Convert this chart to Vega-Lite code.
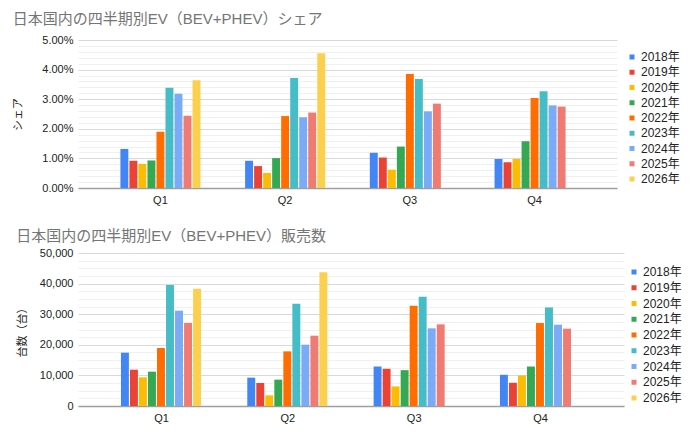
{
  "$schema": "https://vega.github.io/schema/vega-lite/v6.json",
  "padding": {"left": 12, "top": 12, "right": 5, "bottom": 5},
  "config": {
    "font": "Liberation Sans, Noto Sans CJK JP, sans-serif",
    "view": {"stroke": null},
    "axis": {
      "labelFontSize": 11,
      "labelColor": "#222222",
      "titleFontSize": 11,
      "titleColor": "#222222",
      "titleFontWeight": "normal",
      "ticks": false,
      "domain": false
    },
    "legend": {
      "orient": "none",
      "title": null,
      "symbolType": "square",
      "symbolSize": 25,
      "symbolStrokeWidth": 0,
      "labelFontSize": 12,
      "labelColor": "#222222",
      "labelOffset": 3,
      "rowPadding": 3.5
    },
    "title": {"anchor": "start", "frame": "bounds", "fontSize": 15, "fontWeight": "normal", "color": "#757575"},
    "concat": {"spacing": 24}
  },
  "data": {
    "values": [
      {"quarter": "Q1", "year": "2018年", "share": 0.0132, "units": 17430},
      {"quarter": "Q1", "year": "2019年", "share": 0.0092, "units": 11870},
      {"quarter": "Q1", "year": "2020年", "share": 0.0081, "units": 9370},
      {"quarter": "Q1", "year": "2021年", "share": 0.0093, "units": 11220},
      {"quarter": "Q1", "year": "2022年", "share": 0.0190, "units": 18950},
      {"quarter": "Q1", "year": "2023年", "share": 0.0339, "units": 39540},
      {"quarter": "Q1", "year": "2024年", "share": 0.0318, "units": 31150},
      {"quarter": "Q1", "year": "2025年", "share": 0.0244, "units": 27120},
      {"quarter": "Q1", "year": "2026年", "share": 0.0364, "units": 38340},
      {"quarter": "Q2", "year": "2018年", "share": 0.0092, "units": 9260},
      {"quarter": "Q2", "year": "2019年", "share": 0.0074, "units": 7520},
      {"quarter": "Q2", "year": "2020年", "share": 0.0051, "units": 3490},
      {"quarter": "Q2", "year": "2021年", "share": 0.0101, "units": 8610},
      {"quarter": "Q2", "year": "2022年", "share": 0.0243, "units": 17860},
      {"quarter": "Q2", "year": "2023年", "share": 0.0372, "units": 33440},
      {"quarter": "Q2", "year": "2024年", "share": 0.0239, "units": 20040},
      {"quarter": "Q2", "year": "2025年", "share": 0.0255, "units": 22980},
      {"quarter": "Q2", "year": "2026年", "share": 0.0455, "units": 43680},
      {"quarter": "Q3", "year": "2018年", "share": 0.0119, "units": 12900},
      {"quarter": "Q3", "year": "2019年", "share": 0.0103, "units": 12150},
      {"quarter": "Q3", "year": "2020年", "share": 0.0062, "units": 6400},
      {"quarter": "Q3", "year": "2021年", "share": 0.0140, "units": 11710},
      {"quarter": "Q3", "year": "2022年", "share": 0.0385, "units": 32750},
      {"quarter": "Q3", "year": "2023年", "share": 0.0368, "units": 35680},
      {"quarter": "Q3", "year": "2024年", "share": 0.0259, "units": 25380},
      {"quarter": "Q3", "year": "2025年", "share": 0.0285, "units": 26680},
      {"quarter": "Q4", "year": "2018年", "share": 0.0098, "units": 10200},
      {"quarter": "Q4", "year": "2019年", "share": 0.0087, "units": 7590},
      {"quarter": "Q4", "year": "2020年", "share": 0.0098, "units": 9980},
      {"quarter": "Q4", "year": "2021年", "share": 0.0158, "units": 12900},
      {"quarter": "Q4", "year": "2022年", "share": 0.0304, "units": 27110},
      {"quarter": "Q4", "year": "2023年", "share": 0.0327, "units": 32210},
      {"quarter": "Q4", "year": "2024年", "share": 0.0279, "units": 26570},
      {"quarter": "Q4", "year": "2025年", "share": 0.0275, "units": 25270}
    ]
  },
  "resolve": {"legend": {"color": "independent"}},
  "vconcat": [
    {
      "title": {"text": "日本国内の四半期別EV（BEV+PHEV）シェア", "offset": 7},
      "width": 539,
      "height": 148,
      "mark": {"type": "bar"},
      "encoding": {
        "x": {
          "field": "quarter",
          "type": "nominal",
          "scale": {"paddingInner": 0.358, "paddingOuter": 0.34},
          "axis": {"title": null, "labelAngle": 0, "labelPadding": 6, "domain": true, "domainColor": "#9e9e9e", "domainWidth": 1.5, "grid": false}
        },
        "xOffset": {
          "field": "year",
          "type": "nominal",
          "scale": {"domain": ["2018年", "2019年", "2020年", "2021年", "2022年", "2023年", "2024年", "2025年", "2026年"], "paddingInner": 0.12}
        },
        "y": {
          "field": "share",
          "type": "quantitative",
          "scale": {"domain": [0, 0.05], "nice": false},
          "axis": {
            "title": "シェア",
            "titlePadding": 18,
            "labelPadding": 5,
            "format": ".2%",
            "values": [0, 0.002, 0.004, 0.006, 0.008, 0.01, 0.012, 0.014, 0.016, 0.018, 0.02, 0.022, 0.024, 0.026, 0.028, 0.03, 0.032, 0.034, 0.036, 0.038, 0.04, 0.042, 0.044, 0.046, 0.048, 0.05],
            "labelOverlap": false,
            "labelExpr": "round(datum.value * 1000) % 10 == 0 ? datum.label : ''",
            "gridColor": {"condition": {"test": "round(datum.value * 1000) % 10 == 0", "value": "#d9d9d9"}, "value": "#f0f0f0"}
          }
        },
        "color": {
          "field": "year",
          "type": "nominal",
          "scale": {
            "domain": ["2018年", "2019年", "2020年", "2021年", "2022年", "2023年", "2024年", "2025年", "2026年"],
            "range": ["#4285F4", "#EA4335", "#FBBC04", "#34A853", "#FF6D01", "#46BDC6", "#7BAAF7", "#F07B72", "#FCD04F"]
          },
          "legend": {"legendX": 548, "legendY": 11, "rowPadding": 3.25}
        }
      }
    },
    {
      "title": {"text": "日本国内の四半期別EV（BEV+PHEV）販売数", "offset": 3},
      "width": 546,
      "height": 153,
      "mark": {"type": "bar"},
      "encoding": {
        "x": {
          "field": "quarter",
          "type": "nominal",
          "scale": {"paddingInner": 0.358, "paddingOuter": 0.34},
          "axis": {"title": null, "labelAngle": 0, "labelPadding": 6, "domain": true, "domainColor": "#9e9e9e", "domainWidth": 1.5, "grid": false}
        },
        "xOffset": {
          "field": "year",
          "type": "nominal",
          "scale": {"domain": ["2018年", "2019年", "2020年", "2021年", "2022年", "2023年", "2024年", "2025年", "2026年"], "paddingInner": 0.12}
        },
        "y": {
          "field": "units",
          "type": "quantitative",
          "scale": {"domain": [0, 50000], "nice": false},
          "axis": {
            "title": "台数（台）",
            "titlePadding": 12,
            "labelPadding": 5,
            "format": ",d",
            "values": [0, 2500, 5000, 7500, 10000, 12500, 15000, 17500, 20000, 22500, 25000, 27500, 30000, 32500, 35000, 37500, 40000, 42500, 45000, 47500, 50000],
            "labelOverlap": false,
            "labelExpr": "datum.value % 10000 == 0 ? datum.label : ''",
            "gridColor": {"condition": {"test": "datum.value % 10000 == 0", "value": "#d9d9d9"}, "value": "#f0f0f0"}
          }
        },
        "color": {
          "field": "year",
          "type": "nominal",
          "scale": {
            "domain": ["2018年", "2019年", "2020年", "2021年", "2022年", "2023年", "2024年", "2025年", "2026年"],
            "range": ["#4285F4", "#EA4335", "#FBBC04", "#34A853", "#FF6D01", "#46BDC6", "#7BAAF7", "#F07B72", "#FCD04F"]
          },
          "legend": {"legendX": 550, "legendY": 13, "rowPadding": 3.75}
        }
      }
    }
  ]
}
